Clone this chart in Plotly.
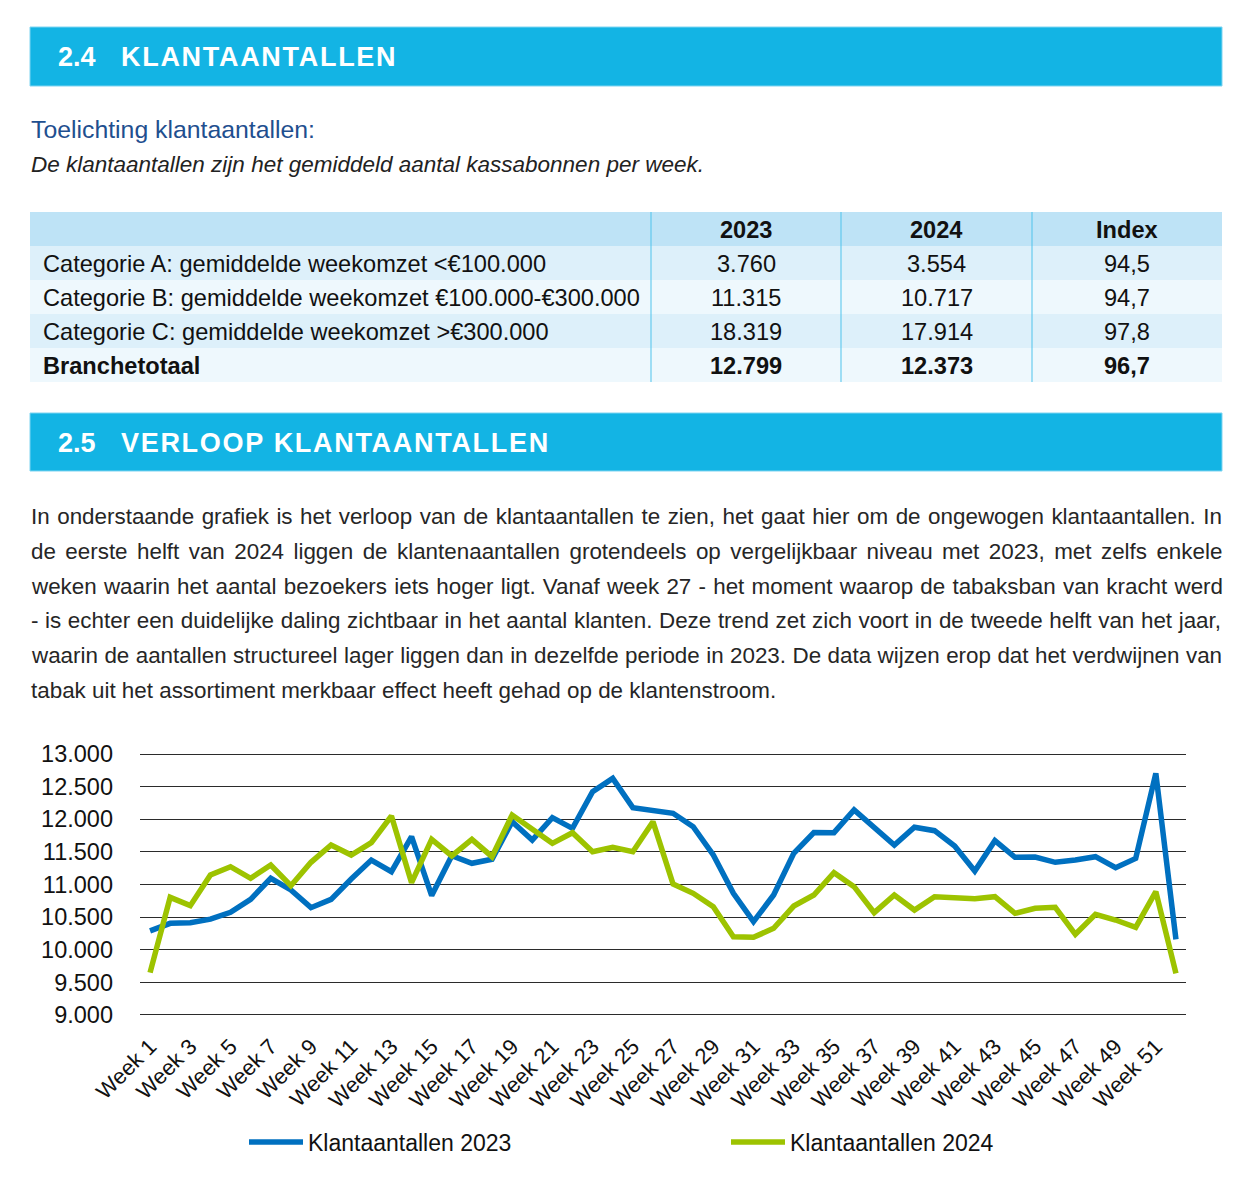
import plotly.graph_objects as go

W, H = 1246, 1180
FONT = "Liberation Sans, Arial, Helvetica, sans-serif"

def px(x):
    return x / W

def py(y):
    return 1 - y / H

# ---------------- data ----------------
weeks = [f"Week {i}" for i in range(1, 53)]
tick_weeks = weeks[::2]

klant_2023 = [10290, 10405, 10415, 10470, 10574, 10773, 11095, 10916, 10645, 10773,
              11085, 11375, 11197, 11733, 10830, 11440, 11325, 11386, 11963, 11682,
              12024, 11861, 12423, 12627, 12178, 12142, 12091, 11886, 11452, 10865,
              10430, 10839, 11478, 11797, 11794, 12142, 11861, 11605, 11877, 11825,
              11590, 11207, 11672, 11416, 11420, 11340, 11375, 11426, 11258, 11400,
              12704, 10160]
klant_2024 = [9649, 10803, 10676, 11146, 11273, 11095, 11299, 10982, 11340, 11605,
              11452, 11641, 12050, 11028, 11692, 11437, 11692, 11426, 12065, 11835,
              11631, 11794, 11503, 11570, 11503, 11963, 11008, 10865, 10660, 10200,
              10190, 10329, 10670, 10839, 11181, 10967, 10568, 10839, 10609, 10813,
              10788, 10783, 10813, 10558, 10635, 10650, 10237, 10543, 10456, 10344,
              10890, 9639]

table_labels = ["Categorie A: gemiddelde weekomzet &lt;€100.000",
                "Categorie B: gemiddelde weekomzet €100.000-€300.000",
                "Categorie C: gemiddelde weekomzet &gt;€300.000",
                "Branchetotaal"]
table_2023 = [3760, 11315, 18319, 12799]
table_2024 = [3554, 10717, 17914, 12373]
table_index = [94.5, 94.7, 97.8, 96.7]
table_header = ["", "2023", "2024", "Index"]

paragraph = [
    "In onderstaande grafiek is het verloop van de klantaantallen te zien, het gaat hier om de ongewogen klantaantallen. In",
    "de eerste helft van 2024 liggen de klantenaantallen grotendeels op vergelijkbaar niveau met 2023, met zelfs enkele",
    "weken waarin het aantal bezoekers iets hoger ligt. Vanaf week 27 - het moment waarop de tabaksban van kracht werd",
    "- is echter een duidelijke daling zichtbaar in het aantal klanten. Deze trend zet zich voort in de tweede helft van het jaar,",
    "waarin de aantallen structureel lager liggen dan in dezelfde periode in 2023. De data wijzen erop dat het verdwijnen van",
    "tabak uit het assortiment merkbaar effect heeft gehad op de klantenstroom.",
]

# ---------------- helpers ----------------
def nl_int(v):
    return f"{v:,}".replace(",", ".")

def nl_dec(v):
    return f"{v:.1f}".replace(".", ",")

fig = go.Figure()

# ---------------- chart ----------------
fig.add_trace(go.Scatter(x=weeks, y=klant_2023, mode="lines", name="Klantaantallen 2023",
                         line=dict(color="#0070C0", width=5.5), legend="legend"))
fig.add_trace(go.Scatter(x=weeks, y=klant_2024, mode="lines", name="Klantaantallen 2024",
                         line=dict(color="#9DC300", width=5.5), legend="legend2"))

shapes = []
annotations = []

def txt(x, y, text, size, color="#111111", xanchor="left", family=FONT):
    annotations.append(dict(xref="paper", yref="paper", x=px(x), y=py(y), xanchor=xanchor,
                            yanchor="middle", text=text, showarrow=False,
                            font=dict(family=family, size=size, color=color)))

def rect(x0, y0, x1, y1, fill, line_color=None, layer="below"):
    shapes.append(dict(type="rect", xref="paper", yref="paper",
                       x0=px(x0), x1=px(x1), y0=py(y1), y1=py(y0),
                       fillcolor=fill, layer=layer,
                       line=dict(color=line_color or fill, width=1 if line_color else 0)))

# header bars
for (y0, y1, num, title) in [(27, 86, "2.4", "KLANTAANTALLEN"),
                             (413, 471, "2.5", "VERLOOP KLANTAANTALLEN")]:
    rect(30, y0, 1222, y1, "#13B4E4", "#7FD4F1")
    yc = (y0 + y1) / 2 + 1
    txt(56, yc, f"<b>{num}</b>", 27, "white")
    txt(119, yc, f"<b><span style='letter-spacing:1.7px'>{title}</span></b>", 27, "white")

# intro texts
txt(29, 129, "Toelichting klantaantallen:", 24.8, "#1F4F8F")
txt(29, 164, "<i>De klantaantallen zijn het gemiddeld aantal kassabonnen per week.</i>", 22.5, "#222222")

# ---------------- table (drawn from the data lists) ----------------
tbl_x = [30, 651, 841, 1032, 1222]
tbl_top = 212
row_h = 34
row_fills = ["#BEE3F6", "#DDF0FA", "#EEF8FD", "#DDF0FA", "#EEF8FD"]
rows = [table_header] + [[lab, nl_int(a), nl_int(b), nl_dec(c)]
                         for lab, a, b, c in zip(table_labels, table_2023, table_2024, table_index)]
for r, row in enumerate(rows):
    y0 = tbl_top + r * row_h
    rect(tbl_x[0], y0, tbl_x[-1], y0 + row_h, row_fills[r])
    bold = (r == 0) or (r == len(rows) - 1)
    for c, val in enumerate(row):
        if not val:
            continue
        t = f"<b>{val}</b>" if bold else val
        if c == 0:
            txt(tbl_x[0] + 11, y0 + row_h / 2 + 1, t, 23.6, "#111111", "left")
        else:
            txt((tbl_x[c] + tbl_x[c + 1]) / 2, y0 + row_h / 2 + 1, t, 23.6, "#111111", "center")
for xs in tbl_x[1:-1]:
    shapes.append(dict(type="line", xref="paper", yref="paper",
                       x0=px(xs), x1=px(xs), y0=py(tbl_top + row_h * len(rows)), y1=py(tbl_top),
                       line=dict(color="#4EC3EC", width=1), layer="above"))

# paragraph (justified via word spacing)
line_y = [516, 551, 586, 620, 655, 690]
word_sp = [1.3, 3.2, 1.0, 0.4, 0.2, 0]
for t, yy, ws in zip(paragraph, line_y, word_sp):
    txt(29, yy, f"<span style='word-spacing:{ws}px'>{t}</span>", 22.4, "#262626")

# chart axes geometry: 13.000 at y=754, 9.000 at y=1015
pad = 20
ppu = (1015 - 754) / 4000.0
y_dom = [py(1015 + pad * ppu), py(754 - pad * ppu)]

fig.update_layout(
    width=W, height=H,
    margin=dict(l=0, r=0, t=0, b=0, autoexpand=False),
    paper_bgcolor="white", plot_bgcolor="white",
    separators=",.",
    font=dict(family=FONT, size=21, color="#1a1a1a"),
    shapes=shapes,
    annotations=annotations,
    xaxis=dict(domain=[px(140), px(1186)], type="category", range=[-0.5, 51.5],
               tickmode="array", tickvals=tick_weeks, ticktext=tick_weeks,
               tickangle=-45, showgrid=False, showline=False, zeroline=False,
               ticks="", ticklabelstandoff=12, automargin=False,
               tickfont=dict(family=FONT, size=22, color="#111111")),
    yaxis=dict(domain=y_dom, range=[9000 - pad, 13000 + pad],
               tickmode="linear", tick0=9000, dtick=500,
               tickformat=",.0f", showgrid=True, gridcolor="#2b2b2b", gridwidth=1,
               zeroline=False, showline=False, ticks="", ticklabelstandoff=26, automargin=False,
               tickfont=dict(family=FONT, size=23.5, color="#111111")),
    showlegend=True,
    legend=dict(orientation="h", x=px(244), xanchor="left", y=py(1142), yanchor="middle",
                itemwidth=54, font=dict(family=FONT, size=23, color="#111111"),
                bgcolor="rgba(0,0,0,0)"),
    legend2=dict(orientation="h", x=px(726), xanchor="left", y=py(1142), yanchor="middle",
                 itemwidth=54, font=dict(family=FONT, size=23, color="#111111"),
                 bgcolor="rgba(0,0,0,0)"),
)

fig.write_html("out.html", config={"displayModeBar": False},
               post_script="document.body.style.margin='0';")
